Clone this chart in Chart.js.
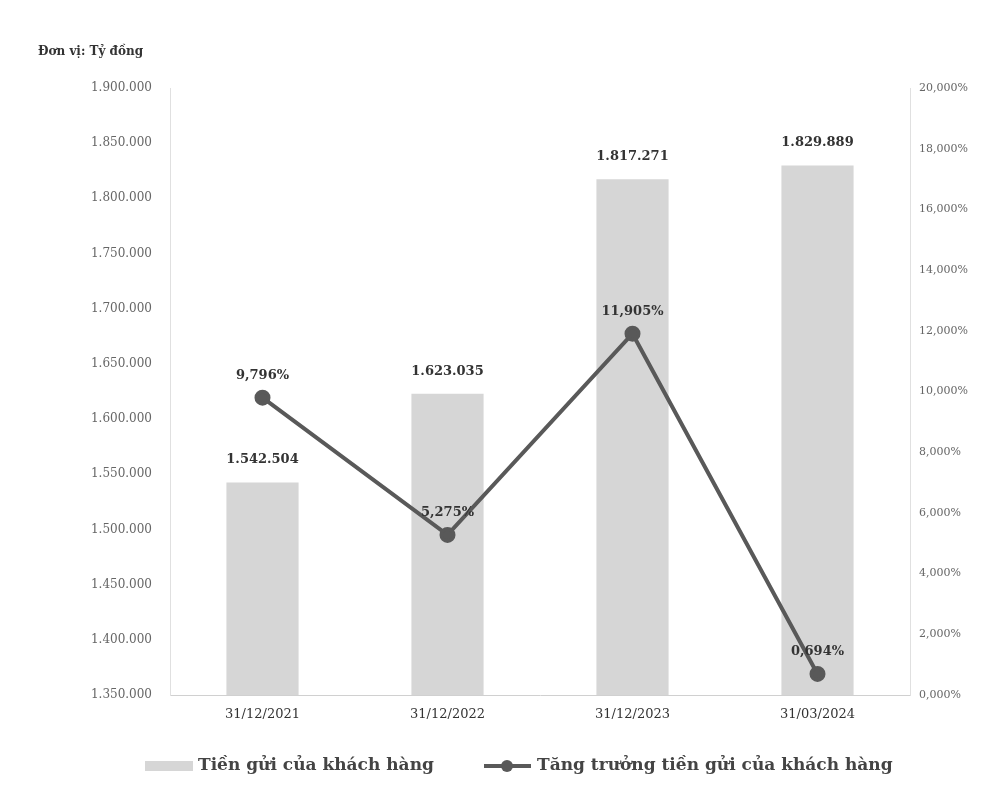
<!DOCTYPE html>
<html>
<head>
<meta charset="utf-8">
<script src="https://cdn.jsdelivr.net/npm/chart.js@4/dist/chart.umd.min.js"></script>
<style>
  html, body { margin: 0; padding: 0; background: #fff; }
  #wrap { width: 993px; height: 793px; position: relative; }
</style>
</head>
<body>
<div id="wrap"><canvas id="chart"></canvas></div>
<script>
var labels = ['31/12/2021', '31/12/2022', '31/12/2023', '31/03/2024'];
var deposits = [1542504, 1623035, 1817271, 1829889];
var growth = [9.796, 5.275, 11.905, 0.694];
var depositLabels = ['1.542.504', '1.623.035', '1.817.271', '1.829.889'];
var growthLabels = ['9,796%', '5,275%', '11,905%', '0,694%'];

var SERIF = '"DejaVu Serif", "Liberation Serif", serif';
var BAR_COLOR = '#d6d6d6';
var LINE_COLOR = '#595959';

function fmtThousands(v) {
    return Math.round(v).toString().replace(/\B(?=(\d{3})+(?!\d))/g, '.');
}

var extras = {
    id: 'extras',
    afterDatasetsDraw: function(chart) {
        var ctx = chart.ctx;
        ctx.save();
        ctx.fillStyle = '#333';
        ctx.font = 'bold 13px ' + SERIF;
        ctx.textAlign = 'center';
        ctx.textBaseline = 'bottom';
        // meta 0 = line, meta 1 = bars
        chart.getDatasetMeta(1).data.forEach(function(bar, i) {
            ctx.fillText(depositLabels[i], bar.x, bar.y - 16);
        });
        chart.getDatasetMeta(0).data.forEach(function(pt, i) {
            ctx.fillText(growthLabels[i], pt.x, pt.y - 16);
        });

        // unit caption
        ctx.textAlign = 'left';
        ctx.textBaseline = 'middle';
        ctx.font = 'bold 12px ' + SERIF;
        ctx.fillStyle = '#333';
        ctx.fillText('Đơn vị: Tỷ đồng', 38, 52);

        // legend
        var ly = 766;
        ctx.fillStyle = BAR_COLOR;
        ctx.fillRect(145, ly - 5, 48, 10);
        ctx.fillStyle = '#444';
        ctx.font = 'bold 17px ' + SERIF;
        ctx.fillText('Tiền gửi của khách hàng', 198, ly);
        ctx.strokeStyle = LINE_COLOR;
        ctx.lineWidth = 4;
        ctx.beginPath();
        ctx.moveTo(484, ly);
        ctx.lineTo(531, ly);
        ctx.stroke();
        ctx.fillStyle = LINE_COLOR;
        ctx.beginPath();
        ctx.arc(507, ly, 6, 0, Math.PI * 2);
        ctx.fill();
        ctx.fillStyle = '#444';
        ctx.fillText('Tăng trưởng tiền gửi của khách hàng', 537, ly);
        ctx.restore();
    }
};

var ctx = document.getElementById('chart').getContext('2d');
new Chart(ctx, {
    data: {
        labels: labels,
        datasets: [{
            type: 'line',
            label: 'Tăng trưởng tiền gửi của khách hàng',
            data: growth,
            yAxisID: 'y2',
            borderColor: LINE_COLOR,
            backgroundColor: LINE_COLOR,
            borderWidth: 4,
            pointRadius: 6,
            pointHoverRadius: 6,
            tension: 0,
            order: 0
        }, {
            type: 'bar',
            label: 'Tiền gửi của khách hàng',
            data: deposits,
            yAxisID: 'y',
            backgroundColor: BAR_COLOR,
            barPercentage: 0.39,
            categoryPercentage: 1,
            order: 1
        }]
    },
    options: {
        responsive: true,
        maintainAspectRatio: false,
        animation: false,
        layout: { padding: { top: 88, bottom: 63, left: 0, right: 0 } },
        plugins: {
            legend: { display: false },
            tooltip: { enabled: false }
        },
        scales: {
            x: {
                grid: { display: false, drawTicks: false },
                border: { color: '#d0d0d0', width: 1 },
                ticks: { color: '#333', font: { family: SERIF, size: 13 }, padding: 12 },
                afterFit: function(s) { s.height = 35; }
            },
            y: {
                position: 'left',
                min: 1350000,
                max: 1900000,
                grid: { display: false, drawTicks: false },
                border: { color: '#e0e0e0', width: 1 },
                ticks: {
                    stepSize: 50000,
                    color: '#666',
                    font: { family: SERIF, size: 12 },
                    padding: 18,
                    callback: function(v) { return fmtThousands(v); }
                },
                afterFit: function(s) { s.width = 170; }
            },
            y2: {
                position: 'right',
                min: 0,
                max: 20,
                grid: { display: false, drawTicks: false },
                border: { color: '#e0e0e0', width: 1 },
                ticks: {
                    stepSize: 2,
                    color: '#666',
                    font: { family: SERIF, size: 11 },
                    padding: 9,
                    callback: function(v) { return v.toFixed(3).replace('.', ',') + '%'; }
                },
                afterFit: function(s) { s.width = 83; }
            }
        }
    },
    plugins: [extras]
});
</script>
</body>
</html>
